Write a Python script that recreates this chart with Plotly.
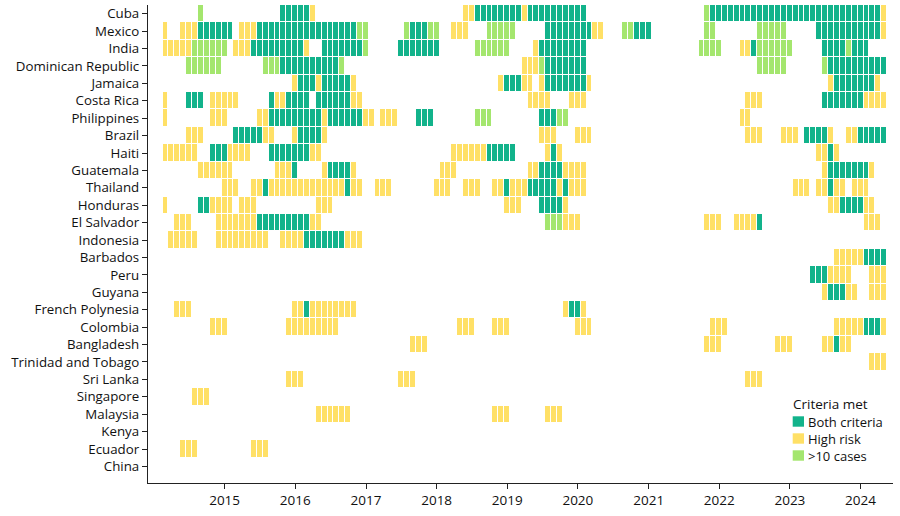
import plotly.graph_objects as go
import pandas as pd

# ---------------- data ----------------
countries = ["Cuba", "Mexico", "India", "Dominican Republic", "Jamaica", "Costa Rica",
             "Philippines", "Brazil", "Haiti", "Guatemala", "Thailand", "Honduras",
             "El Salvador", "Indonesia", "Barbados", "Peru", "Guyana", "French Polynesia",
             "Colombia", "Bangladesh", "Trinidad and Tobago", "Sri Lanka", "Singapore",
             "Malaysia", "Kenya", "Ecuador", "China"]

first_month = "2014-01"
last_month = "2024-05"

# status codes: B = Both criteria, H = High risk, C = >10 cases
cuba = [("2014-09", "2014-09", "C"), ("2015-11", "2016-03", "B"), ("2016-04", "2016-04", "H"),
        ("2018-06", "2018-07", "H"), ("2018-08", "2019-03", "B"), ("2019-04", "2019-04", "H"),
        ("2019-05", "2020-02", "B"), ("2021-11", "2021-11", "C"), ("2021-12", "2024-04", "B"),
        ("2024-05", "2024-05", "H")]
mexico = [("2014-03", "2014-03", "H"), ("2014-06", "2014-08", "H"), ("2014-09", "2015-02", "B"),
          ("2015-04", "2015-06", "H"), ("2015-07", "2016-11", "B"), ("2016-12", "2017-01", "C"),
          ("2017-08", "2017-08", "C"), ("2017-09", "2017-11", "B"), ("2017-12", "2018-01", "C"),
          ("2018-04", "2018-06", "H"), ("2018-10", "2019-02", "C"), ("2019-08", "2020-03", "B"),
          ("2020-04", "2020-05", "H"), ("2020-09", "2020-10", "C"), ("2020-11", "2021-01", "B"),
          ("2021-11", "2021-12", "C"), ("2022-08", "2022-12", "C"), ("2023-06", "2024-04", "B"),
          ("2024-05", "2024-05", "H")]
india = [("2014-03", "2014-07", "H"), ("2014-08", "2015-01", "C"), ("2015-03", "2015-05", "H"),
         ("2015-06", "2016-02", "B"), ("2016-03", "2016-03", "H"), ("2016-06", "2016-12", "B"),
         ("2017-01", "2017-01", "C"), ("2017-07", "2018-01", "B"), ("2018-08", "2019-01", "C"),
         ("2019-06", "2019-06", "H"), ("2019-07", "2020-02", "B"), ("2021-10", "2022-01", "C"),
         ("2022-05", "2022-06", "H"), ("2022-07", "2022-07", "B"), ("2022-08", "2023-01", "C"),
         ("2023-07", "2023-10", "B"), ("2023-11", "2023-11", "C"), ("2023-12", "2024-02", "B")]
dominican_republic = [("2014-07", "2014-12", "C"), ("2015-08", "2015-10", "C"), ("2015-11", "2016-08", "B"),
                      ("2016-09", "2016-09", "C"), ("2019-04", "2019-06", "H"), ("2019-07", "2019-07", "C"),
                      ("2019-08", "2020-02", "B"), ("2022-08", "2022-12", "C"), ("2023-07", "2023-07", "C"),
                      ("2023-08", "2024-05", "B")]
jamaica = [("2016-01", "2016-01", "H"), ("2016-02", "2016-04", "B"), ("2016-05", "2016-05", "H"),
           ("2016-06", "2016-10", "B"), ("2016-11", "2016-11", "H"), ("2018-12", "2018-12", "H"),
           ("2019-01", "2019-03", "B"), ("2019-04", "2019-05", "H"), ("2019-07", "2019-07", "H"),
           ("2019-08", "2020-02", "B"), ("2020-03", "2020-03", "H"), ("2023-08", "2023-08", "H"),
           ("2023-09", "2024-03", "B"), ("2024-04", "2024-04", "H")]
costa_rica = [("2014-03", "2014-03", "H"), ("2014-07", "2014-09", "B"), ("2014-11", "2015-03", "H"),
              ("2015-09", "2015-09", "B"), ("2015-10", "2015-11", "H"), ("2015-12", "2016-03", "B"),
              ("2016-05", "2016-10", "B"), ("2016-11", "2016-12", "H"), ("2019-05", "2019-08", "H"),
              ("2019-12", "2020-02", "H"), ("2022-06", "2022-08", "H"), ("2023-07", "2024-01", "B"),
              ("2024-02", "2024-05", "H")]
philippines = [("2014-03", "2014-03", "H"), ("2014-11", "2015-01", "H"), ("2015-07", "2015-08", "H"),
               ("2015-09", "2016-05", "B"), ("2016-06", "2016-06", "H"), ("2016-07", "2016-12", "B"),
               ("2017-01", "2017-02", "H"), ("2017-04", "2017-06", "H"), ("2017-10", "2017-12", "B"),
               ("2018-08", "2018-10", "C"), ("2019-07", "2019-09", "B"), ("2019-10", "2019-11", "C"),
               ("2022-05", "2022-06", "H")]
brazil = [("2014-07", "2014-09", "H"), ("2015-03", "2015-07", "B"), ("2015-08", "2015-09", "H"),
          ("2016-01", "2016-01", "H"), ("2016-02", "2016-05", "B"), ("2016-06", "2016-06", "H"),
          ("2019-07", "2019-09", "H"), ("2020-01", "2020-03", "H"), ("2022-06", "2022-08", "H"),
          ("2022-12", "2023-02", "H"), ("2023-04", "2023-07", "B"), ("2023-08", "2023-08", "H"),
          ("2023-11", "2023-12", "H"), ("2024-01", "2024-05", "B")]
haiti = [("2014-03", "2014-08", "H"), ("2014-11", "2015-01", "B"), ("2015-02", "2015-05", "H"),
         ("2015-09", "2016-03", "B"), ("2016-04", "2016-05", "H"), ("2018-04", "2018-09", "H"),
         ("2018-10", "2019-02", "B"), ("2019-08", "2019-08", "H"), ("2019-09", "2019-09", "B"),
         ("2019-10", "2019-10", "H"), ("2023-06", "2023-07", "H"), ("2023-08", "2023-08", "B"),
         ("2023-09", "2023-09", "H")]
guatemala = [("2014-09", "2015-02", "H"), ("2015-10", "2015-12", "H"), ("2016-01", "2016-01", "B"),
             ("2016-06", "2016-06", "H"), ("2016-07", "2016-10", "B"), ("2016-11", "2016-11", "H"),
             ("2018-02", "2018-04", "H"), ("2019-05", "2019-06", "H"), ("2019-07", "2019-10", "B"),
             ("2019-11", "2020-02", "H"), ("2023-07", "2023-07", "H"), ("2023-08", "2024-02", "B"),
             ("2024-03", "2024-03", "H")]
thailand = [("2015-01", "2015-03", "H"), ("2015-06", "2015-07", "H"), ("2015-08", "2015-08", "B"),
            ("2015-09", "2016-09", "H"), ("2016-10", "2016-10", "B"), ("2016-11", "2016-12", "H"),
            ("2017-03", "2017-05", "H"), ("2018-01", "2018-03", "H"), ("2018-06", "2018-08", "H"),
            ("2018-11", "2018-12", "H"), ("2019-01", "2019-01", "B"), ("2019-02", "2019-04", "H"),
            ("2019-05", "2019-09", "B"), ("2019-10", "2019-10", "H"), ("2019-11", "2019-11", "B"),
            ("2019-12", "2020-02", "H"), ("2023-02", "2023-04", "H"), ("2023-06", "2023-07", "H"),
            ("2023-08", "2023-08", "B"), ("2023-09", "2023-10", "H"), ("2023-12", "2024-02", "H")]
honduras = [("2014-03", "2014-03", "H"), ("2014-09", "2014-10", "B"), ("2014-11", "2015-02", "H"),
            ("2015-04", "2015-06", "H"), ("2016-05", "2016-07", "H"), ("2019-01", "2019-03", "H"),
            ("2019-07", "2019-10", "B"), ("2019-11", "2019-11", "H"), ("2023-08", "2023-09", "H"),
            ("2023-10", "2024-01", "B"), ("2024-02", "2024-03", "H")]
el_salvador = [("2014-05", "2014-07", "H"), ("2014-12", "2015-06", "H"), ("2015-07", "2016-03", "B"),
               ("2016-04", "2016-05", "H"), ("2019-08", "2019-10", "C"), ("2019-11", "2020-01", "H"),
               ("2021-11", "2022-01", "H"), ("2022-04", "2022-07", "H"), ("2022-08", "2022-08", "B"),
               ("2024-02", "2024-04", "H")]
indonesia = [("2014-04", "2014-08", "H"), ("2014-12", "2015-08", "H"), ("2015-11", "2016-02", "H"),
             ("2016-03", "2016-09", "B"), ("2016-10", "2016-12", "H")]
barbados = [("2023-09", "2024-01", "H"), ("2024-02", "2024-05", "B")]
peru = [("2023-05", "2023-07", "B"), ("2023-08", "2023-11", "H"), ("2024-03", "2024-05", "H")]
guyana = [("2023-07", "2023-07", "H"), ("2023-08", "2023-10", "B"), ("2023-11", "2023-12", "H"),
          ("2024-03", "2024-05", "H")]
french_polynesia = [("2014-05", "2014-07", "H"), ("2016-01", "2016-02", "H"), ("2016-03", "2016-03", "B"),
                    ("2016-04", "2016-11", "H"), ("2019-11", "2019-11", "H"), ("2019-12", "2020-01", "B"),
                    ("2020-02", "2020-02", "H")]
colombia = [("2014-11", "2015-01", "H"), ("2015-12", "2016-08", "H"), ("2018-05", "2018-07", "H"),
            ("2018-11", "2019-01", "H"), ("2020-01", "2020-03", "H"), ("2021-12", "2022-02", "H"),
            ("2023-09", "2024-01", "H"), ("2024-02", "2024-04", "B"), ("2024-05", "2024-05", "H")]
bangladesh = [("2017-09", "2017-11", "H"), ("2021-11", "2022-01", "H"), ("2022-11", "2023-01", "H"),
              ("2023-07", "2023-08", "H"), ("2023-09", "2023-09", "B"), ("2023-10", "2023-11", "H")]
trinidad_and_tobago = [("2024-03", "2024-05", "H")]
sri_lanka = [("2015-12", "2016-02", "H"), ("2017-07", "2017-09", "H"), ("2022-06", "2022-08", "H")]
singapore = [("2014-08", "2014-10", "H")]
malaysia = [("2016-05", "2016-10", "H"), ("2018-11", "2019-01", "H"), ("2019-08", "2019-10", "H")]
kenya = []
ecuador = [("2014-06", "2014-08", "H"), ("2015-06", "2015-08", "H")]
china = []

country_runs = [cuba, mexico, india, dominican_republic, jamaica, costa_rica, philippines, brazil,
                haiti, guatemala, thailand, honduras, el_salvador, indonesia, barbados, peru, guyana,
                french_polynesia, colombia, bangladesh, trinidad_and_tobago, sri_lanka, singapore,
                malaysia, kenya, ecuador, china]

year_ticks = [2015, 2016, 2017, 2018, 2019, 2020, 2021, 2022, 2023, 2024]

legend_labels = ["Both criteria", "High risk", ">10 cases"]
legend_codes = ["B", "H", "C"]

# ---------------- styles ----------------
GREEN = "#12b38b"
YELLOW = "#ffe066"
LIGHT = "#a4e66e"
code_value = {"B": 1, "H": 2, "C": 3}
code_color = {"B": GREEN, "H": YELLOW, "C": LIGHT}
FONT = "Open Sans"

months = pd.period_range(first_month, last_month, freq="M")
month_dates = [p.to_timestamp().strftime("%Y-%m-%d") for p in months]
pos = {str(p): i for i, p in enumerate(months)}

z = []
for runs in country_runs:
    row = [None] * len(months)
    for start, end, code in runs:
        for i in range(pos[start], pos[end] + 1):
            row[i] = code_value[code]
    z.append(row)

fig = go.Figure()
fig.add_trace(go.Heatmap(
    x=month_dates, y=countries, z=z,
    zmin=1, zmax=3,
    colorscale=[[0, GREEN], [0.5, YELLOW], [1, LIGHT]],
    showscale=False, xgap=1, ygap=1, hoverongaps=False,
))

W, H = 900, 516
L, R, T, B = 148, 7, 5, 33
fig.update_layout(
    width=W, height=H,
    margin=dict(l=L, r=R, t=T, b=B, autoexpand=False),
    plot_bgcolor="white", paper_bgcolor="white",
    showlegend=False,
    font=dict(family=FONT, size=13, color="#111"),
)
fig.update_xaxes(
    type="date", automargin=False,
    range=["2013-12-01", "2024-06-17"],
    tickvals=[f"{y}-01-01" for y in year_ticks],
    ticktext=[str(y) for y in year_ticks],
    ticks="outside", ticklen=5, tickwidth=1.3, tickcolor="#222",
    showline=True, linecolor="#222", linewidth=1.3,
    showgrid=False, zeroline=False,
    tickfont=dict(size=13.5),
)
fig.update_yaxes(
    type="category", categoryorder="array", categoryarray=countries,
    range=[26.95, -0.5], automargin=False,
    ticks="outside", ticklen=5, tickwidth=1.3, tickcolor="#222",
    showline=True, linecolor="#222", linewidth=1.3,
    showgrid=False, zeroline=False,
    tickfont=dict(size=13.3),
)

# legend drawn in pixel positions converted to paper coordinates
pw, ph = W - L - R, H - T - B
def px(xp):
    return (xp - L) / pw
def py(yp):
    return (H - B - yp) / ph

fig.add_annotation(x=px(791), y=py(404), xref="paper", yref="paper", text="Criteria met",
                   showarrow=False, xanchor="left", yanchor="middle", font=dict(size=13.5))
for k, (lab, code) in enumerate(zip(legend_labels, legend_codes)):
    yc = 421.5 + k * 17.0
    fig.add_shape(type="rect", xref="paper", yref="paper",
                  x0=px(792.7), x1=px(804), y0=py(yc - 5.2), y1=py(yc + 5.2),
                  fillcolor=code_color[code], line=dict(width=0))
    fig.add_annotation(x=px(805.5), y=py(yc), xref="paper", yref="paper", text=lab,
                       showarrow=False, xanchor="left", yanchor="middle", font=dict(size=13))

fig.write_html("out.html", config={"displayModeBar": False},
               post_script="document.body.style.margin='0';document.body.style.overflow='hidden';")
